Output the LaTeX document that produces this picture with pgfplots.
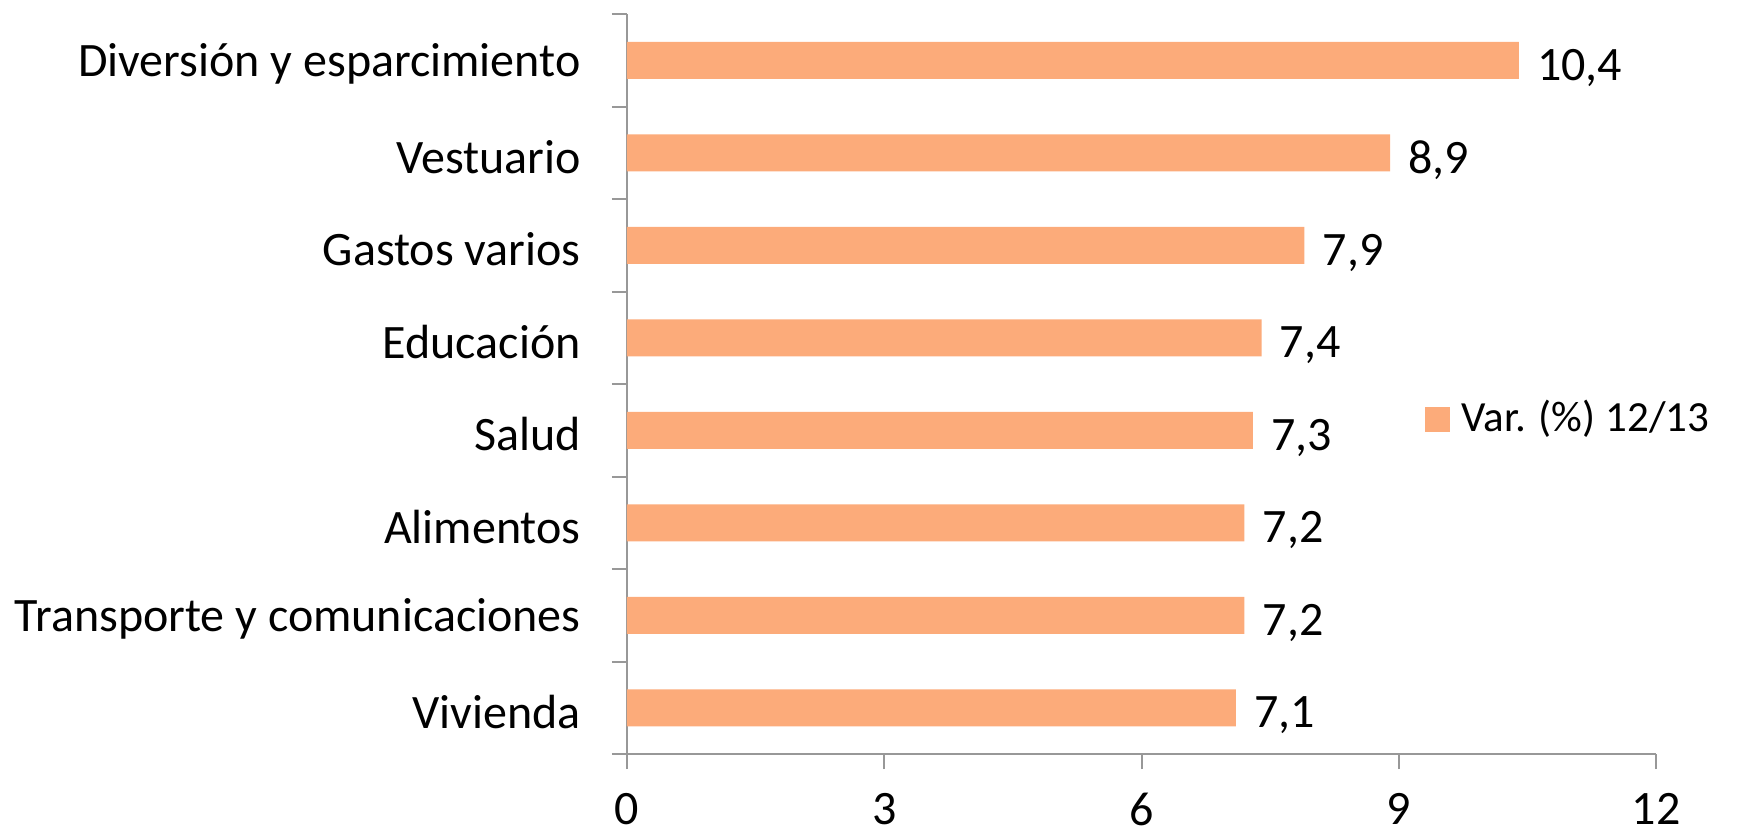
\documentclass[border=0pt]{standalone}
\usepackage{fontspec}
\setmainfont{Carlito}
\usepackage{pgfplots}
\pgfplotsset{compat=1.18}
\definecolor{barorange}{RGB}{252,171,122}
\definecolor{axgray}{RGB}{152,152,152}
\begin{document}
\fontsize{24}{29}\selectfont
\begin{tikzpicture}
\useasboundingbox (-313.5pt,-41pt) rectangle (555.5pt,377pt);
\begin{axis}[
  at={(0pt,0pt)}, anchor=south west,
  scale only axis, width=514.5pt, height=370pt,
  xmin=0, xmax=12, ymin=0.5, ymax=8.5,
  axis lines*=left,
  axis line style={axgray, line width=1pt},
  every tick/.style={axgray, line width=1pt},
  tick align=outside,
  major tick length=7.5pt,
  xtick={0,3,6,9,12},
  ytick={0.5,1.5,...,8.5},
  yticklabels={},
  extra y ticks={1,2,3,4,5,6,7,8},
  extra y tick labels={Vivienda, Transporte y comunicaciones, Alimentos, Salud, Educación, Gastos varios, Vestuario, Diversión y esparcimiento},
  extra y tick style={major tick length=0pt},
  yticklabel style={anchor=east, inner sep=0pt, xshift=-23pt, yshift=-2pt, font=\fontsize{24}{29}\selectfont},
  xticklabel style={anchor=north, inner sep=0pt, yshift=-12pt, font=\fontsize{24}{29}\selectfont},
  /pgf/number format/assume math mode=true,
  legend style={at={(0.775,0.4527)}, anchor=west, draw=none, fill=none, inner sep=0pt,
    nodes={inner sep=0pt}, /tikz/every odd column/.append style={column sep=6pt},
    font=\fontsize{21.5}{26}\selectfont},
  legend image code/.code={\fill[barorange] (0pt,-6.25pt) rectangle (12.5pt,6.25pt);},
]
\addplot[xbar, bar width=18.5pt, draw=none, fill=barorange,
  nodes near coords={\pgfmathprintnumber[fixed,fixed zerofill,precision=1,use comma,assume math mode=true]{\pgfplotspointmeta}},
  every node near coord/.append style={anchor=west, inner sep=0pt, xshift=9pt, yshift=-3.75pt, black, font=\fontsize{24}{29}\selectfont}]
  coordinates {(7.1,1) (7.2,2) (7.2,3) (7.3,4) (7.4,5) (7.9,6) (8.9,7) (10.4,8)};
\addlegendentry{Var. (\%) 12/13}
\end{axis}
\end{tikzpicture}
\end{document}
